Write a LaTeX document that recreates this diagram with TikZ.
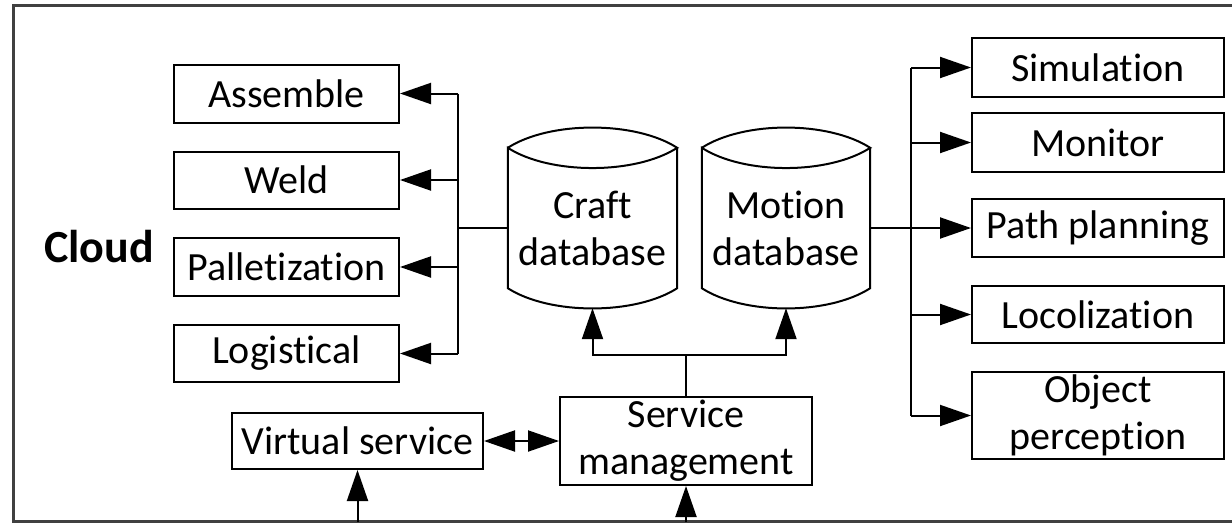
\documentclass[tikz,border=0pt]{standalone}
\usepackage{fontspec}
\setmainfont[Ligatures=NoCommon]{Carlito}
\usetikzlibrary{arrows.meta}
\tikzset{
  box/.style={draw, line width=2pt, inner sep=0pt, align=center, font=\fontsize{40}{47}\selectfont},
  ln/.style={line width=2pt},
  arr/.style={line width=2pt, -{Triangle[length=31pt,width=21pt]}},
  darr/.style={line width=2pt, {Triangle[length=31pt,width=21pt]}-{Triangle[length=31pt,width=21pt]}},
  cylnode/.style={inner sep=0pt, align=center, font=\fontsize{40}{47}\selectfont},
  frame/.style={line width=3pt, draw=black!75}
}
\newcommand\drawcyl[1]{%
  \draw[ln] (#1.north west) .. controls +(42,-27) and +(-42,-27) .. (#1.north east)
    .. controls +(-42,27) and +(42,27) .. (#1.north west) -- ([yshift=20pt]#1.south west)
    .. controls +(42,27) and +(-42,27) .. ([yshift=20pt]#1.south east) -- (#1.north east);
}
\begin{document}
\begin{tikzpicture}[x=1pt,y=-1pt]
\useasboundingbox (0,0) rectangle (1232,525);
\draw[frame] (1240,5) -- (13,5) -- (13,521) -- (1240,521);

\node[font=\bfseries\fontsize{46}{50}\selectfont] (cloud) at (99,247) {Cloud};

% left boxes
\node[box, minimum width=225pt, minimum height=58pt] (assemble) at (286.5,93.5) {Assemble};
\node[box, minimum width=225pt, minimum height=57pt] (weld) at (286.5,180) {Weld};
\node[box, minimum width=225pt, minimum height=58pt] (pallet) at (286.5,267) {Palletization};
\node[box, minimum width=225pt, minimum height=57pt] (logist) at (286.5,353.5) {Logistical};

% databases
\node[cylnode, minimum width=169pt, minimum height=160pt] (craft) at (592.5,228) {Craft\\database};
\node[cylnode, minimum width=168pt, minimum height=160pt] (motion) at (786,228) {Motion\\database};
\drawcyl{craft}
\drawcyl{motion}

% right boxes
\node[box, minimum width=252pt, minimum height=59pt] (sim) at (1098,67.5) {Simulation};
\node[box, minimum width=252pt, minimum height=59pt] (mon) at (1098,142.5) {Monitor};
\node[box, minimum width=252pt, minimum height=58pt] (path) at (1098,228) {Path planning};
\node[box, minimum width=252pt, minimum height=57pt] (loco) at (1098,314.5) {Locolization};
\node[box, minimum width=252pt, minimum height=87pt] (obj) at (1098,415.5) {Object\\perception};

% bottom boxes
\node[box, minimum width=251pt, minimum height=56pt] (virt) at (357.5,441) {Virtual service};
\node[box, minimum width=252pt, minimum height=88pt] (serv) at (686,441) {Service\\management};

% left bus
\coordinate (lbus) at (458,228);
\draw[ln] (craft.west) -- (lbus);
\draw[ln] (lbus |- assemble.east) -- (lbus |- logist.east);
\foreach \n in {assemble,weld,pallet,logist}
  \draw[arr] (lbus |- \n.east) -- (\n.east);

% right bus
\coordinate (rbus) at (911,228);
\draw[ln] (motion.east) -- (rbus);
\draw[ln] (rbus |- sim.west) -- (rbus |- obj.west);
\foreach \n in {sim,mon,path,loco,obj}
  \draw[arr] (rbus |- \n.west) -- (\n.west);

% service management to databases
\coordinate (junc) at (686,355);
\draw[ln] (serv.north) -- (junc);
\draw[arr] (junc) -| (craft.south);
\draw[arr] (junc) -| (motion.south);

% double arrow
\draw[darr] (virt.east) -- (serv.west);

% inputs from below
\coordinate (vin) at (357.5,522);
\coordinate (sin) at (686,522);
\draw[arr] (vin) -- (virt.south);
\draw[arr] (sin) -- (serv.south);
\end{tikzpicture}
\end{document}
